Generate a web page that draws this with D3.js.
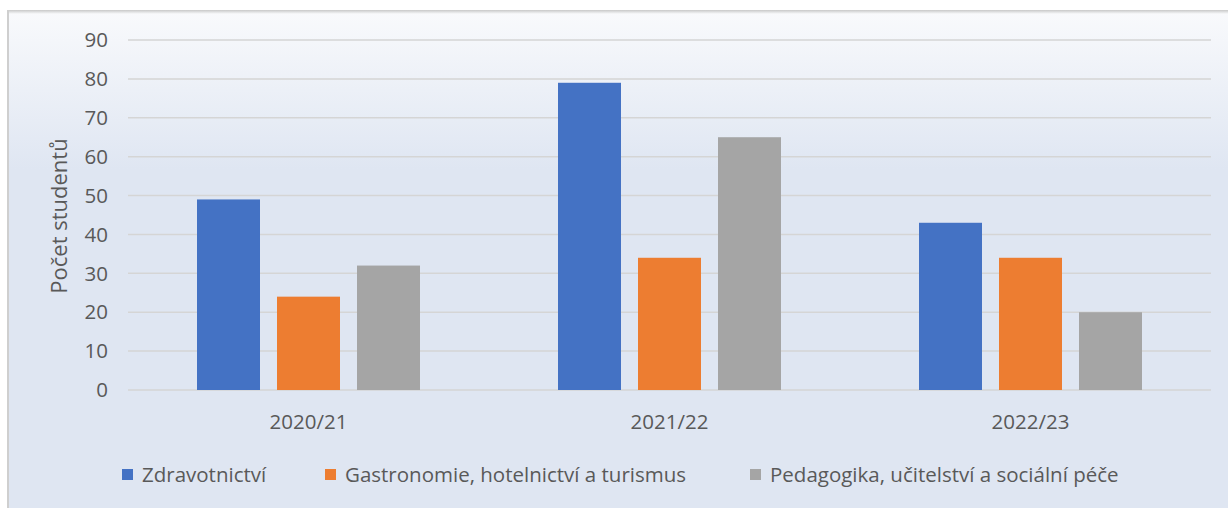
<!DOCTYPE html>
<html><head><meta charset="utf-8">
<script src="https://cdn.jsdelivr.net/npm/d3@7"></script>
<style>body{margin:0;background:#fff;overflow:hidden}svg{display:block}</style>
</head><body>
<script>
const categories = ["2020/21", "2021/22", "2022/23"];
const seriesNames = ["Zdravotnictví", "Gastronomie, hotelnictví a turismus", "Pedagogika, učitelství a sociální péče"];
const zdravotnictvi = [49, 79, 43];
const gastronomie = [24, 34, 34];
const pedagogika = [32, 65, 20];
const colors = ["#4472c4", "#ed7d31", "#a5a5a5"];
const yTicks = [0, 10, 20, 30, 40, 50, 60, 70, 80, 90];
const yTitle = "Počet studentů";

const W = 1228, H = 508;
const svg = d3.select("body").append("svg").attr("width", W).attr("height", H);
const defs = svg.append("defs");
const grad = defs.append("linearGradient").attr("id", "bg").attr("x1", 0).attr("y1", 0).attr("x2", 0).attr("y2", 1);
grad.append("stop").attr("offset", "0%").attr("stop-color", "#f9fafc");
grad.append("stop").attr("offset", "32%").attr("stop-color", "#dfe6f2");
grad.append("stop").attr("offset", "100%").attr("stop-color", "#dfe6f2");
const sh = defs.append("linearGradient").attr("id", "sh").attr("x1", 0).attr("y1", 0).attr("x2", 0).attr("y2", 1);
sh.append("stop").attr("offset", "0%").attr("stop-color", "#c8c8c8");
sh.append("stop").attr("offset", "100%").attr("stop-color", "#f9fafc");

svg.append("rect").attr("x", 7).attr("y", 10).attr("width", W - 7).attr("height", H - 10).attr("fill", "url(#bg)");
svg.append("rect").attr("x", 7).attr("y", 10).attr("width", W - 7).attr("height", 4).attr("fill", "url(#sh)");
svg.append("rect").attr("x", 7).attr("y", 10).attr("width", 2).attr("height", H - 10).attr("fill", "#cfcfcf");

const m = {left: 128, right: 1211, top: 40, bottom: 390};
const x0 = d3.scaleBand().domain(categories).range([m.left, m.right]).paddingInner(0).paddingOuter(0);
const bw = x0.bandwidth();
const x1 = d3.scaleBand().domain(d3.range(3)).range([69, bw - 69]).paddingInner(0.2125).paddingOuter(0);
const y = d3.scaleLinear().domain([0, 90]).range([m.bottom, m.top]);

const font = "Open Sans, sans-serif";
const fs = 20.5;
svg.append("g").selectAll("line").data(yTicks).join("line")
  .attr("x1", m.left).attr("x2", m.right)
  .attr("y1", d => y(d)).attr("y2", d => y(d))
  .attr("stroke", "#d5d5d5").attr("stroke-width", 1.5);
svg.append("g").selectAll("text").data(yTicks).join("text")
  .attr("x", 108).attr("y", d => y(d)).attr("dy", "0.35em")
  .attr("text-anchor", "end").attr("font-family", font).attr("font-size", fs)
  .attr("fill", "#595959").text(d => d);
svg.append("text").attr("transform", `translate(67,${216}) rotate(-90)`)
  .attr("text-anchor", "middle").attr("font-family", font).attr("font-size", 22)
  .attr("fill", "#595959").text(yTitle);

const series = [zdravotnictvi, gastronomie, pedagogika];
const g = svg.append("g");
categories.forEach((c, ci) => {
  series.forEach((s, si) => {
    g.append("rect")
      .attr("x", x0(c) + x1(si)).attr("width", x1.bandwidth())
      .attr("y", y(s[ci])).attr("height", y(0) - y(s[ci]))
      .attr("fill", colors[si]);
  });
});
svg.append("g").selectAll("text").data(categories).join("text")
  .attr("x", d => x0(d) + bw / 2).attr("y", 422).attr("dy", "0.35em")
  .attr("text-anchor", "middle").attr("font-family", font).attr("font-size", fs)
  .attr("fill", "#595959").text(d => d);

const legX = [122, 325, 750];
const leg = svg.append("g");
seriesNames.forEach((n, i) => {
  leg.append("rect").attr("x", legX[i]).attr("y", 469).attr("width", 11).attr("height", 11).attr("fill", colors[i]);
  leg.append("text").attr("x", legX[i] + 20).attr("y", 475).attr("dy", "0.35em")
    .attr("font-family", font).attr("font-size", fs).attr("fill", "#595959").text(n);
});
</script>
</body></html>
